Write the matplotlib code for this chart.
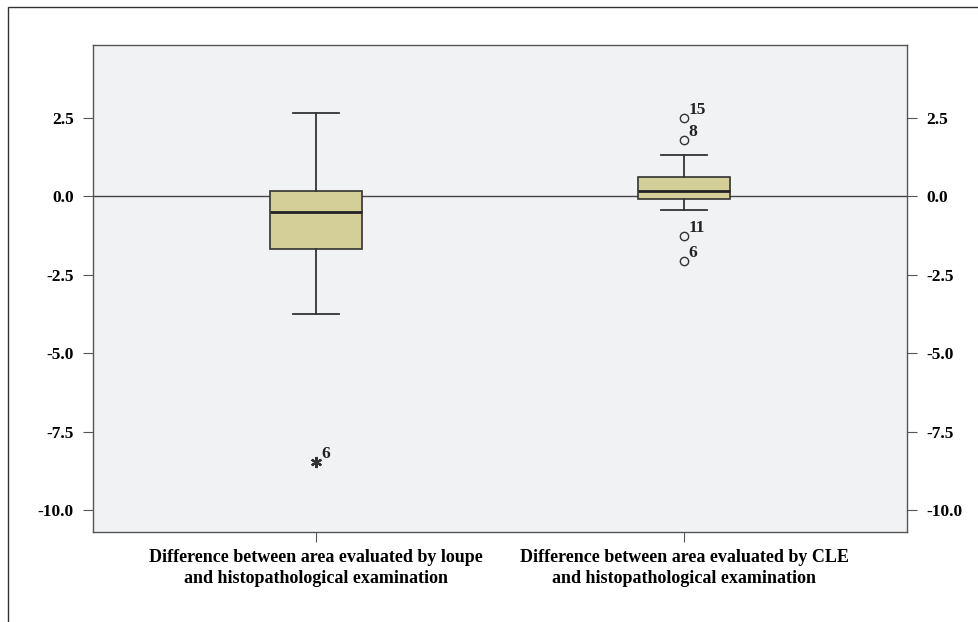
import numpy as np
import matplotlib.pyplot as plt
from matplotlib.patches import Rectangle

plt.rcParams['font.family'] = ['Liberation Serif', 'DejaVu Serif']
plt.rcParams['font.weight'] = 'bold'

# box statistics
labels = ['Difference between area evaluated by loupe\nand histopathological examination',
          'Difference between area evaluated by CLE\nand histopathological examination']
whislo = [-3.75, -0.42]
q1 = [-1.67, -0.07]
med = [-0.50, 0.17]
q3 = [0.17, 0.61]
whishi = [2.66, 1.33]

# outliers (circles) and extremes (asterisks) with case numbers
out_x = [2, 2, 2, 2]
out_y = [2.51, 1.79, -1.27, -2.05]
out_id = ['15', '8', '11', '6']
ext_x = [1]
ext_y = [-8.48]
ext_id = ['6']

yticks = [2.5, 0.0, -2.5, -5.0, -7.5, -10.0]

fig = plt.figure(figsize=(9.79, 6.22), dpi=100)
ax = fig.add_axes([93/979, 1 - 532/622, (907-93)/979, (532-45)/622])
ax.set_facecolor('#f1f2f4')

stats = []
for i in range(2):
    stats.append(dict(whislo=whislo[i], q1=q1[i], med=med[i], q3=q3[i],
                      whishi=whishi[i], fliers=[]))

ax.axhline(0, color='#444444', lw=1.0, zorder=1)
ax.bxp(stats, positions=[1, 2], widths=0.25, showfliers=False, patch_artist=True,
       boxprops=dict(facecolor='#d4cf98', edgecolor='#333333', lw=1.2),
       medianprops=dict(color='#222222', lw=2.0),
       whiskerprops=dict(color='#333333', lw=1.3),
       capprops=dict(color='#333333', lw=1.3), capwidths=0.125,
       zorder=2)

ax.plot(out_x, out_y, 'o', mfc='none', mec='#333333', ms=6, mew=1.0, zorder=3)
for x, y, t in zip(out_x, out_y, out_id):
    ax.annotate(t, (x, y), xytext=(3, 3), textcoords='offset points',
                fontsize=12.5, fontweight='bold', color='#222222')
ax.plot(ext_x, ext_y, marker=(6, 2, 0), ls='none', color='#333333', ms=8, mew=1.6, zorder=3)
for x, y, t in zip(ext_x, ext_y, ext_id):
    ax.annotate(t, (x, y), xytext=(4, 3), textcoords='offset points',
                fontsize=12.5, fontweight='bold', color='#222222')

ax.set_xlim(0.395, 2.605)
ax.set_ylim(-10.70, 4.83)
ax.set_yticks(yticks)
ax.set_yticklabels([f'{v:.1f}' for v in yticks])
ax.set_xticks([1, 2])
ax.set_xticklabels(labels, fontsize=13, linespacing=1.3)
ax.tick_params(axis='y', right=True, labelright=True, length=7, width=0.8,
               color='#555555', pad=7, labelsize=12.5)
ax.tick_params(axis='x', length=7, width=0.8, color='#555555', pad=5)
for s in ax.spines.values():
    s.set_color('#555555')
    s.set_linewidth(1.0)

# outer frame
fig.patches.append(Rectangle((8.5/979, -0.1), 1.2, 1.1 - 7/622, transform=fig.transFigure,
                             fill=False, edgecolor='#333333', lw=1.0))

fig.savefig('out.png', dpi=100)
